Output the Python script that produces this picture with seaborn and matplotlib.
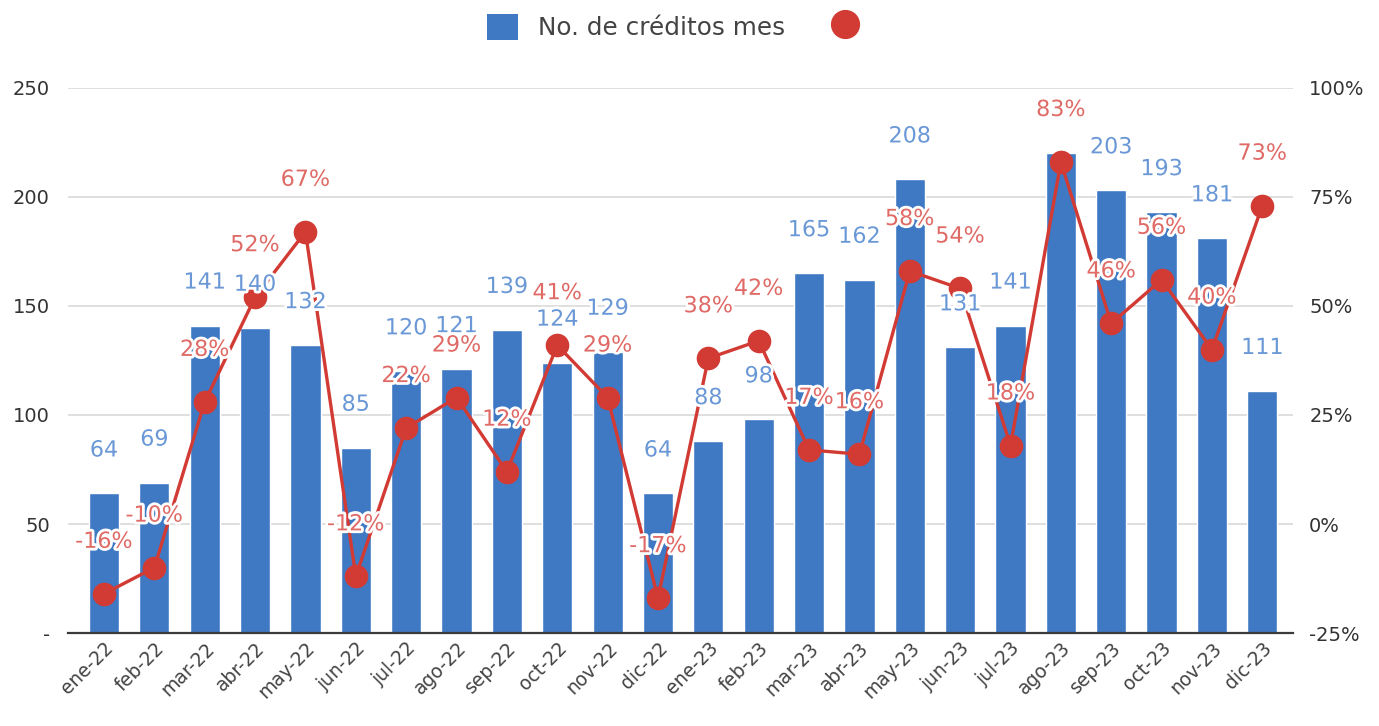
import numpy as np
import pandas as pd
import matplotlib
matplotlib.use("Agg")
import matplotlib.pyplot as plt
import seaborn as sns
from matplotlib import patheffects as pe
from matplotlib.patches import Patch
from matplotlib.lines import Line2D

# ---- data ----
months = ["ene-22", "feb-22", "mar-22", "abr-22", "may-22", "jun-22", "jul-22", "ago-22",
          "sep-22", "oct-22", "nov-22", "dic-22", "ene-23", "feb-23", "mar-23", "abr-23",
          "may-23", "jun-23", "jul-23", "ago-23", "sep-23", "oct-23", "nov-23", "dic-23"]
creditos = [64, 69, 141, 140, 132, 85, 120, 121, 139, 124, 129, 64,
            88, 98, 165, 162, 208, 131, 141, 220, 203, 193, 181, 111]
variacion = [-16, -10, 28, 52, 67, -12, 22, 29, 12, 41, 29, -17,
             38, 42, 17, 16, 58, 54, 18, 83, 46, 56, 40, 73]
hidden_bar_labels = ["ago-23"]
left_ticks = [0, 50, 100, 150, 200, 250]
left_ticklabels = ["-", "50", "100", "150", "200", "250"]
right_ticks = [-25, 0, 25, 50, 75, 100]
legend_label = "No. de créditos mes"

BLUE = "#3f79c4"
BLUE_TXT = "#6a98d6"
RED = "#d23a34"
RED_TXT = "#df6a66"

sns.set_theme(style="white")
plt.rcParams["font.family"] = ["DejaVu Sans"]

df = pd.DataFrame({"mes": months, "creditos": creditos, "var": variacion})

fig = plt.figure(figsize=(13.79, 7.26), dpi=100)
ax = fig.add_axes([0.0493, 0.128, 0.888, 0.751])
sns.barplot(data=df, x="mes", y="creditos", color=BLUE, width=0.6, saturation=1, ax=ax, zorder=2)
ax.set_ylim(0, 250)
ax.set_xlim(-0.715, 23.6)
ax.set_yticks(left_ticks)
ax.set_yticklabels(left_ticklabels)
ax.set_xlabel("")
ax.set_ylabel("")
ax.yaxis.grid(True, color="#d9d9d9", linewidth=1.2, zorder=0)
ax.set_axisbelow(True)
for s in ["top", "right", "left"]:
    ax.spines[s].set_visible(False)
ax.spines["bottom"].set_color("#3a3a3a")
ax.spines["bottom"].set_linewidth(1.6)
ax.tick_params(axis="y", length=0, labelsize=14, labelcolor="#333333", pad=13)
ax.tick_params(axis="x", length=0, labelsize=13.5, labelcolor="#444444", pad=4)
plt.setp(ax.get_xticklabels(), rotation=45, ha="right", rotation_mode="anchor")

ax2 = ax.twinx()
ax2.set_ylim(-25, 100)
ax2.set_yticks(right_ticks)
ax2.set_yticklabels([f"{t}%" for t in right_ticks])
ax2.tick_params(axis="y", length=0, labelsize=14, labelcolor="#333333", pad=12)
for s in ["top", "right", "left", "bottom"]:
    ax2.spines[s].set_visible(False)
ax2.grid(False)
xs = np.arange(len(months))
sns.lineplot(x=xs, y=df["var"].values, ax=ax2, color=RED, linewidth=2.4,
             marker="o", markersize=17, markeredgewidth=0, legend=False, zorder=3)
ax2.set_xlim(-0.715, 23.6)

halo = [pe.withStroke(linewidth=4, foreground="white")]
for i, (m, v) in enumerate(zip(months, creditos)):
    if m in hidden_bar_labels:
        continue
    ax2.annotate(str(v), (i, v), xycoords=ax.transData, xytext=(0, 43), textcoords="offset pixels",
                 ha="center", va="center", fontsize=16, color=BLUE_TXT, path_effects=halo, zorder=5)
for i, p in enumerate(variacion):
    ax2.annotate(f"{p}%", (i, p), xytext=(0, 52), textcoords="offset pixels",
                 ha="center", va="center", fontsize=16, color=RED_TXT, path_effects=halo, zorder=6)

handles = [Patch(facecolor=BLUE, edgecolor="none"),
           Line2D([], [], color=RED, marker="o", linestyle="none", markersize=20)]
fig.legend(handles, [legend_label, ""], loc="upper center", bbox_to_anchor=(0.496, 1.012),
           ncol=2, frameon=False, fontsize=17.8, handlelength=1.25, handleheight=1.25,
           columnspacing=1.8, handletextpad=0.8, labelcolor="#444444")

fig.savefig("out.png", dpi=100)
